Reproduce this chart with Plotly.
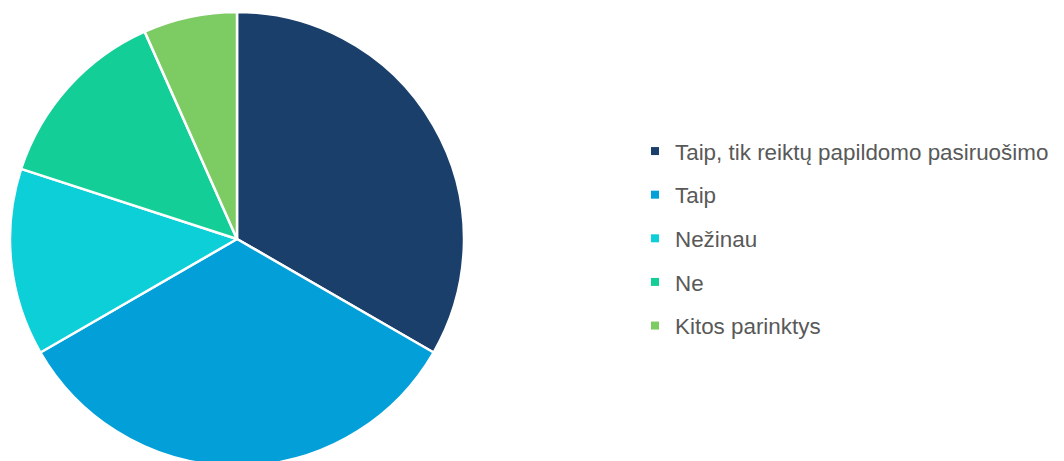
import plotly.graph_objects as go

labels = ["Taip, tik reiktų papildomo pasiruošimo", "Taip", "Nežinau", "Ne", "Kitos parinktys"]
values = [5, 5, 2, 2, 1]
colors = ["#1a3f6b", "#039fd9", "#0ccfd8", "#13cf97", "#7dcb63"]

W, H = 1064, 470
cx, cy, r = 229, 231, 227

fig = go.Figure()
fig.add_trace(go.Pie(
    labels=labels, values=values, sort=False, direction="clockwise", rotation=0,
    marker=dict(colors=colors, line=dict(color="white", width=2.5)),
    textinfo="none", hoverinfo="label+percent", showlegend=False,
    domain=dict(x=[(cx - r) / W, (cx + r) / W], y=[(H - cy - r) / H, (H - cy + r) / H]),
))
for lab, col in zip(labels, colors):
    fig.add_trace(go.Scatter(
        x=[None], y=[None], mode="markers", name=lab, legendgroup=lab,
        marker=dict(symbol="square", size=8, color=col),
    ))

fig.update_layout(
    width=W, height=H,
    margin=dict(l=0, r=0, t=0, b=0),
    paper_bgcolor="white", plot_bgcolor="white",
    xaxis=dict(visible=False), yaxis=dict(visible=False),
    legend=dict(x=627 / W, y=(H - 122) / H, xanchor="left", yanchor="top",
                font=dict(family="Liberation Sans, Arial, sans-serif", size=22.4, color="#595959"),
                tracegroupgap=11.5, itemwidth=30, bgcolor="rgba(0,0,0,0)"),
)
fig.write_html("out.html")
